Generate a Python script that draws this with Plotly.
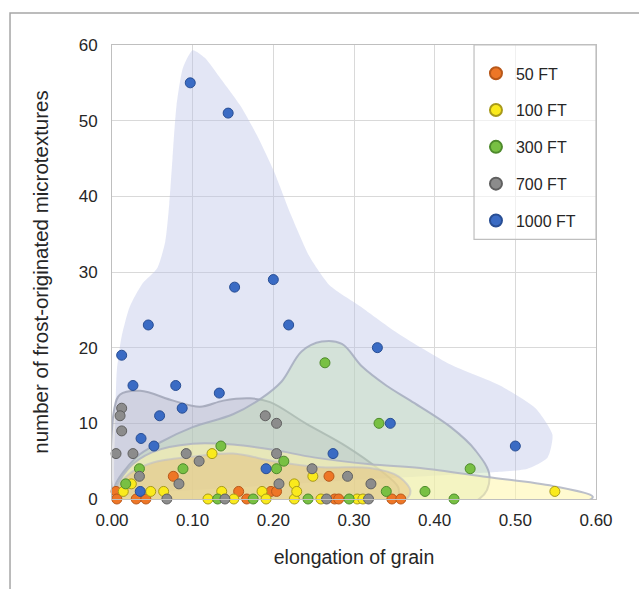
import plotly.graph_objects as go

# ---- measured points: elongation of grain (x) vs. frost-originated microtextures (y)
ft50_x = [0.005, 0.006, 0.030, 0.042, 0.076, 0.157, 0.167, 0.197, 0.204, 0.269, 0.276, 0.281, 0.347, 0.358]
ft50_y = [1, 0, 0, 0, 3, 1, 0, 1, 1, 3, 0, 0, 0, 0]

ft100_x = [0.014, 0.024, 0.048, 0.064, 0.119, 0.124, 0.136, 0.151, 0.186, 0.191, 0.226, 0.226,
           0.229, 0.249, 0.259, 0.304, 0.311, 0.549]
ft100_y = [1, 2, 1, 1, 0, 6, 1, 0, 1, 0, 0, 2, 1, 3, 0, 0, 0, 1]

ft300_x = [0.017, 0.034, 0.088, 0.135, 0.131, 0.175, 0.204, 0.213, 0.243, 0.264, 0.294, 0.331,
           0.340, 0.388, 0.424, 0.444]
ft300_y = [2, 4, 4, 7, 0, 0, 4, 5, 0, 18, 0, 10, 1, 1, 0, 4]

ft700_x = [0.012, 0.010, 0.012, 0.005, 0.026, 0.092, 0.108, 0.190, 0.204, 0.204, 0.248, 0.292,
           0.207, 0.321, 0.266, 0.318, 0.034, 0.083, 0.068, 0.140]
ft700_y = [12, 11, 9, 6, 6, 6, 5, 11, 10, 6, 4, 3, 2, 2, 0, 0, 3, 2, 0, 0]

ft1000_x = [0.097, 0.144, 0.152, 0.200, 0.012, 0.045, 0.026, 0.079, 0.059, 0.087, 0.133, 0.036,
            0.052, 0.219, 0.329, 0.345, 0.274, 0.191, 0.500, 0.035]
ft1000_y = [55, 51, 28, 29, 19, 23, 15, 15, 11, 12, 14, 8, 7, 23, 20, 10, 6, 4, 7, 1]

# ---- outlines of the shaded envelope drawn around each group
env1000_x = [0.004, 0.004, 0.006, 0.012, 0.022, 0.038, 0.056, 0.066, 0.071, 0.075, 0.080, 0.088,
             0.100, 0.115, 0.135, 0.159, 0.180, 0.200, 0.222, 0.245, 0.270, 0.307, 0.357, 0.419,
             0.481, 0.525, 0.546, 0.540, 0.515, 0.480, 0.420, 0.300, 0.150, 0.040, 0.010]
env1000_y = [1, 10, 17, 21.5, 25.4, 28.5, 30.5, 34, 39, 45, 52, 57, 59.3, 58.3, 55.5, 52, 48,
             43.5, 37.5, 32, 28.2, 25.5, 21.7, 17.8, 15, 12, 8.5, 5.5, 4, 3.6, 3.2, 2.5, 1.5,
             0.8, 0.4]

env700_x = [0.002, 0.003, 0.010, 0.035, 0.076, 0.109, 0.138, 0.171, 0.196, 0.240, 0.290, 0.330,
            0.355, 0.352, 0.320, 0.100, 0.010]
env700_y = [0.5, 12, 13.8, 14.3, 13, 12.2, 13, 13.3, 12.8, 10, 7, 4, 1.5, 0, -0.4, -0.4, -0.2]

env300_x = [0.003, 0.030, 0.060, 0.100, 0.150, 0.185, 0.210, 0.235, 0.260, 0.285, 0.310, 0.340,
            0.370, 0.420, 0.450, 0.468, 0.455, 0.300, 0.050, 0.005]
env300_y = [1.5, 5.5, 7.5, 9.5, 11.2, 13.3, 15.5, 19.5, 20.8, 20.5, 17.5, 15, 13, 9.5, 6.5, 3,
            0, -0.4, -0.4, 0.3]

env100_x = [0.002, 0.020, 0.050, 0.100, 0.150, 0.200, 0.250, 0.320, 0.382, 0.465, 0.547, 0.596,
            0.590, 0.400, 0.100, 0.005]
env100_y = [0.5, 4, 6.2, 7.3, 7.2, 6.5, 5.5, 4.6, 4.1, 2.9, 1.7, 0.3, -0.2, -0.4, -0.4, -0.2]

env50_x = [0.003, 0.020, 0.050, 0.100, 0.150, 0.200, 0.260, 0.320, 0.355, 0.370, 0.360, 0.200, 0.020]
env50_y = [0.5, 3.2, 4.8, 5.6, 6, 5, 4.2, 4.1, 3, 1, -0.3, -0.5, -0.3]

x_ticks = [0.0, 0.1, 0.2, 0.3, 0.4, 0.5, 0.6]
y_ticks = [0, 10, 20, 30, 40, 50, 60]

FONT = "Liberation Sans, Arial, sans-serif"
TXT = "#262626"
fig = go.Figure()

envelopes = [
    (env1000_x, env1000_y, "rgba(186,192,230,0.40)", "rgba(0,0,0,0)", 0.6),
    (env700_x, env700_y, "rgba(150,152,168,0.25)", "rgba(160,165,182,0.85)", 1.0),
    (env300_x, env300_y, "rgba(190,222,170,0.38)", "rgba(165,172,190,0.85)", 1.0),
    (env100_x, env100_y, "rgba(255,246,170,0.55)", "rgba(175,180,195,0.85)", 1.0),
    (env50_x, env50_y, "rgba(225,178,105,0.38)", "rgba(190,190,200,0.6)", 1.0),
]
for ex, ey, fillc, linec, smooth in envelopes:
    fig.add_trace(go.Scatter(
        x=ex + ex[:1], y=ey + ey[:1], mode="lines", fill="toself",
        fillcolor=fillc, line=dict(color=linec, width=2, shape="spline", smoothing=smooth),
        hoverinfo="skip", showlegend=False,
    ))

groups = [
    ("50 FT", ft50_x, ft50_y, "#EE7626", "#B8581A"),
    ("100 FT", ft100_x, ft100_y, "#FAEA1C", "#A89A1A"),
    ("300 FT", ft300_x, ft300_y, "#78C043", "#4E8A2C"),
    ("700 FT", ft700_x, ft700_y, "#8C8C8C", "#606060"),
    ("1000 FT", ft1000_x, ft1000_y, "#3A6BC4", "#284E94"),
]
for name, gx, gy, col, edge in groups:
    fig.add_trace(go.Scatter(
        x=gx, y=gy, mode="markers", name=name, legendgroup=name, cliponaxis=False,
        marker=dict(size=10, color=col, line=dict(color=edge, width=1)),
    ))

# outer frame and legend box
fig.add_shape(type="rect", xref="paper", yref="paper",
              x0=-0.2107, y0=-0.25, x1=1.15, y1=1.0705,
              line=dict(color="#A6A6A6", width=1.5), layer="below")
fig.add_shape(type="rect", xref="paper", yref="paper",
              x0=0.748, y0=0.572, x1=1.0, y1=1.0,
              line=dict(color="#BFBFBF", width=1.2), fillcolor="rgba(255,255,255,0.6)",
              layer="above")

axis_common = dict(
    showgrid=True, gridcolor="#D9D9D9", gridwidth=1,
    showline=True, linecolor="#BFBFBF", linewidth=1, mirror=True,
    zeroline=False, ticks="", tickfont=dict(family=FONT, size=17, color=TXT),
)
fig.update_xaxes(range=[0, 0.6], tickvals=x_ticks, tickformat=".2f",
                 ticklabelstandoff=6,
                 title=dict(text="elongation of grain", standoff=20,
                            font=dict(family=FONT, size=19.5, color=TXT)),
                 **axis_common)
fig.update_yaxes(range=[0, 60], tickvals=y_ticks, ticklabelstandoff=10,
                 title=dict(text="number of frost-originated microtextures", standoff=24,
                            font=dict(family=FONT, size=20.5, color=TXT)),
                 **axis_common)

fig.update_layout(
    width=639, height=589,
    margin=dict(l=112, r=43, t=45, b=90, autoexpand=False),
    paper_bgcolor="white", plot_bgcolor="white",
    font=dict(family=FONT, color=TXT),
    showlegend=True,
    legend=dict(x=0.752, y=0.975, xanchor="left", yanchor="top",
                bgcolor="rgba(0,0,0,0)", borderwidth=0,
                font=dict(family=FONT, size=16, color=TXT),
                tracegroupgap=13, itemsizing="constant"),
)

fig.write_html("out.html")
